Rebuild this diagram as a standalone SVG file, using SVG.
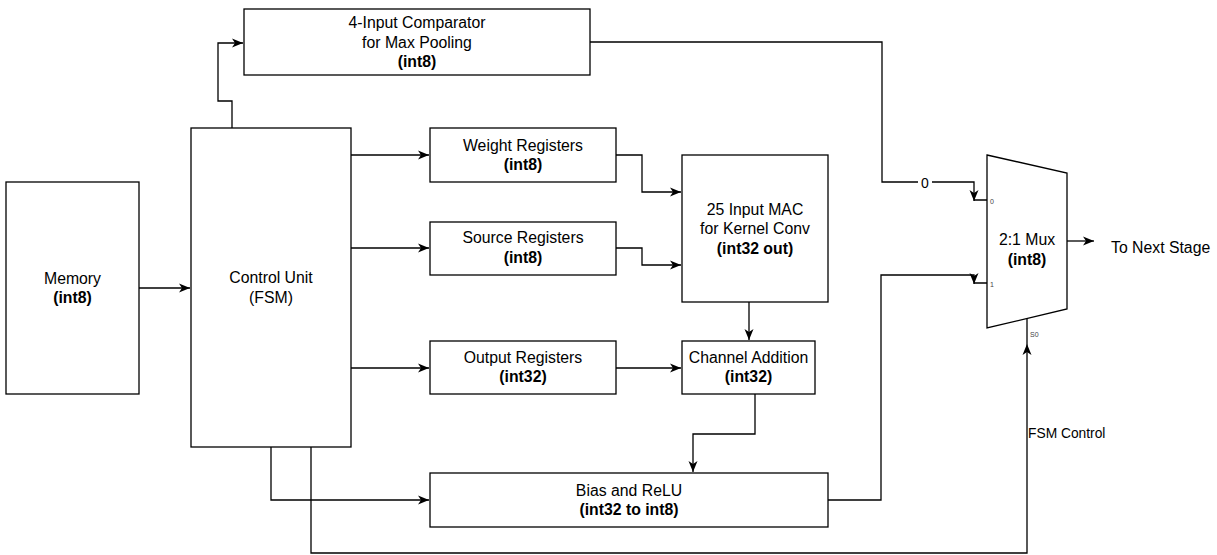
<svg xmlns="http://www.w3.org/2000/svg" width="1217" height="555" viewBox="0 0 1217 555">
<style>
.box{fill:#fff;stroke:#000;stroke-width:1.3}
.t{font-family:"Liberation Sans",Arial,sans-serif;font-size:15.8px;fill:#000;text-anchor:middle}
.b{font-weight:bold}
.e{fill:none;stroke:#000;stroke-width:1.3}
.p{font-family:"Liberation Sans",Arial,sans-serif;font-size:7px;fill:#444}
</style>
<defs>
<marker id="arr" markerUnits="userSpaceOnUse" markerWidth="12" markerHeight="10" viewBox="0 0 12 10" refX="11" refY="5" orient="auto">
<path d="M0,0.5 L11,5 L0,9.5 L3,5 Z" fill="#000"/>
</marker>
</defs>
<rect width="1217" height="555" fill="#fff"/>
<g id="connectors">
<path class="e" d="M139,288 H190" marker-end="url(#arr)"/>
<path class="e" d="M232,128 V101 H218 V43 H243" marker-end="url(#arr)"/>
<path class="e" d="M351,155 H429" marker-end="url(#arr)"/>
<path class="e" d="M351,248 H429" marker-end="url(#arr)"/>
<path class="e" d="M351,368 H429" marker-end="url(#arr)"/>
<path class="e" d="M271,447 V500 H429" marker-end="url(#arr)"/>
<path class="e" d="M311,447 V553 H1027 V344" marker-end="url(#arr)"/>
<path class="e" d="M616,155 H642 V192 H681" marker-end="url(#arr)"/>
<path class="e" d="M616,248 H642 V265 H681" marker-end="url(#arr)"/>
<path class="e" d="M749,302 V340" marker-end="url(#arr)"/>
<path class="e" d="M616,368 H681" marker-end="url(#arr)"/>
<path class="e" d="M755,394 V434 H693 V472" marker-end="url(#arr)"/>
<path class="e" d="M590,42 H882 V182 H974 V201" marker-end="url(#arr)"/>
<path class="e" d="M828,500 H881 V275 H974 V284" marker-end="url(#arr)"/>
<path class="e" d="M974,200 H987 M974,283 H987 M1027,319 V344"/>
<path class="e" d="M1067,241 H1083 V241 H1094" marker-end="url(#arr)"/>
<rect x="918" y="174" width="14" height="16" fill="#fff"/>
<text x="925" y="188" font-family="'Liberation Sans',Arial,sans-serif" font-size="14px" text-anchor="middle">0</text>
</g>
<g id="memory">
<rect class="box" x="6" y="182" width="133" height="212"/>
<text class="t" x="72.5" y="283.5">Memory</text>
<text class="t b" x="72.5" y="303">(int8)</text>
</g>
<g id="control-unit">
<rect class="box" x="191" y="128" width="160" height="319"/>
<text class="t" x="271" y="283">Control Unit</text>
<text class="t" x="271" y="302.5">(FSM)</text>
</g>
<g id="comparator">
<rect class="box" x="244" y="9" width="346" height="66"/>
<text class="t" x="417" y="28">4-Input Comparator</text>
<text class="t" x="417" y="47.5">for Max Pooling</text>
<text class="t b" x="417" y="67">(int8)</text>
</g>
<g id="weight-registers">
<rect class="box" x="430" y="128" width="186" height="54"/>
<text class="t" x="523" y="150.75">Weight Registers</text>
<text class="t b" x="523" y="170.25">(int8)</text>
</g>
<g id="source-registers">
<rect class="box" x="430" y="222" width="186" height="53"/>
<text class="t" x="523" y="243.25">Source Registers</text>
<text class="t b" x="523" y="262.75">(int8)</text>
</g>
<g id="output-registers">
<rect class="box" x="430" y="341" width="186" height="53"/>
<text class="t" x="523" y="362.75">Output Registers</text>
<text class="t b" x="523" y="382.25">(int32)</text>
</g>
<g id="mac">
<rect class="box" x="682" y="155" width="146" height="147"/>
<text class="t" x="755" y="214.5">25 Input MAC</text>
<text class="t" x="755" y="234">for Kernel Conv</text>
<text class="t b" x="755" y="253.5">(int32 out)</text>
</g>
<g id="channel-addition">
<rect class="box" x="682" y="341" width="133" height="53"/>
<text class="t" x="748.5" y="362.75">Channel Addition</text>
<text class="t b" x="748.5" y="382.25">(int32)</text>
</g>
<g id="bias-relu">
<rect class="box" x="430" y="473" width="398" height="54"/>
<text class="t" x="629" y="495.75">Bias and ReLU</text>
<text class="t b" x="629" y="515.25">(int32 to int8)</text>
</g>
<g id="mux">
<path class="box" d="M987,155 L1067,173 L1067,309 L987,328 Z"/>
<text class="t" x="1027" y="245">2:1 Mux</text>
<text class="t b" x="1027" y="264.5">(int8)</text>
<text class="p" x="990" y="204">0</text>
<text class="p" x="990" y="287">1</text>
<text class="p" x="1030" y="337">S0</text>
</g>
<g id="labels">
<text x="1111" y="253" font-family="'Liberation Sans',Arial,sans-serif" font-size="15.8px">To Next Stage</text>
<text x="1028" y="438" font-family="'Liberation Sans',Arial,sans-serif" font-size="13.8px">FSM Control</text>
</g>
</svg>
